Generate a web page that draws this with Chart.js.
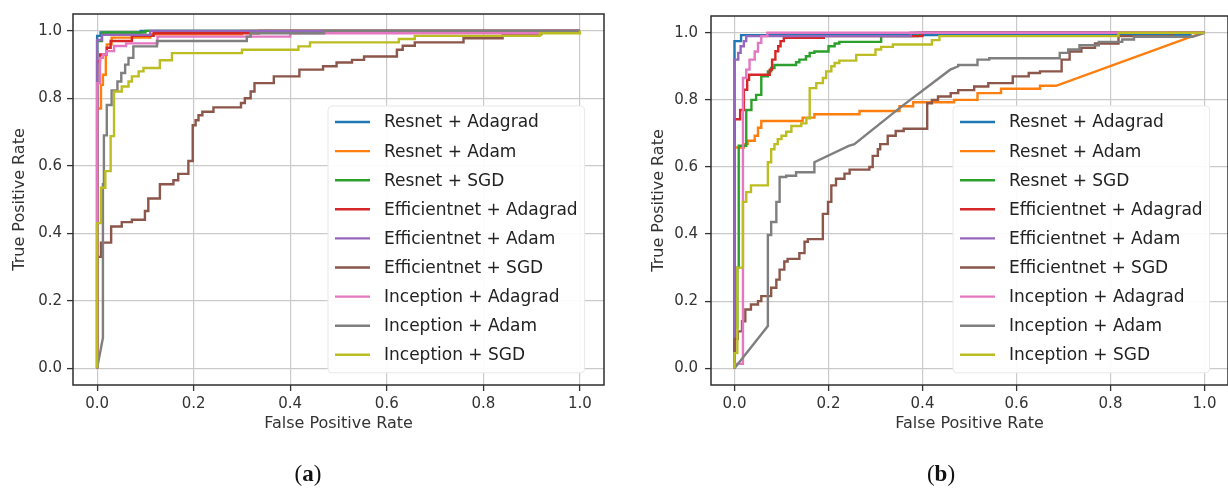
<!DOCTYPE html>
<html>
<head>
<meta charset="utf-8">
<script src="https://cdn.jsdelivr.net/npm/chart.js@4.4.1/dist/chart.umd.min.js"></script>
<style>
  html, body { margin: 0; padding: 0; background: #fff; }
  body { width: 1228px; height: 494px; position: relative; overflow: hidden; }
  canvas { position: absolute; top: 0; }
  #chartA { left: 0; }
  #chartB { left: 614px; }
  .caption {
    position: absolute; top: 461px; width: 80px; text-align: center;
    font-family: "Liberation Serif", "DejaVu Serif", serif; font-size: 23px; color: #111;
  }
</style>
</head>
<body>
<canvas id="chartA" width="614" height="494"></canvas>
<canvas id="chartB" width="614" height="494"></canvas>
<div class="caption" style="left:268px">(<b>a</b>)</div>
<div class="caption" style="left:901px">(<b>b</b>)</div>
<script>
const seriesLabels = [
  'Resnet + Adagrad', 'Resnet + Adam', 'Resnet + SGD',
  'Efficientnet + Adagrad', 'Efficientnet + Adam', 'Efficientnet + SGD',
  'Inception + Adagrad', 'Inception + Adam', 'Inception + SGD'
];
const seriesColors = ['#1f77b4', '#ff7f0e', '#2ca02c', '#d62728', '#9467bd',
                      '#8c564b', '#e377c2', '#7f7f7f', '#bcbd22'];
const tickValues = [0, 0.2, 0.4, 0.6, 0.8, 1.0];

// ---- panel (a): [fpr, tpr] corner points ----
const aResnetAdagrad = [[0,0],[0,0.985],[0.007,0.985],[0.007,0.995],[0.09,0.995],[0.09,1],[1,1]];
const aResnetAdam = [[0,0],[0,0.77],[0.008,0.77],[0.008,0.84],[0.012,0.84],[0.012,0.87],[0.018,0.87],
  [0.018,0.93],[0.02,0.93],[0.02,0.96],[0.03,0.96],[0.03,0.98],[0.11,0.98],[0.11,0.99],[0.3,0.99],[0.3,1],[1,1]];
const aResnetSGD = [[0,0],[0,0.97],[0.01,0.97],[0.01,0.995],[0.1,0.995],[0.1,1],[1,1]];
const aEffAdagrad = [[0,0],[0,0.91],[0.006,0.91],[0.006,0.93],[0.02,0.93],[0.02,0.95],[0.028,0.95],
  [0.028,0.97],[0.072,0.97],[0.072,0.985],[0.117,0.985],[0.117,0.993],[0.335,0.993],[0.335,1],[1,1]];
const aEffAdam = [[0,0],[0,0.973],[0.01,0.973],[0.01,0.988],[0.11,0.988],[0.11,1],[1,1]];
const aEffSGD = [[0,0],[0,0.33],[0.008,0.33],[0.008,0.372],[0.029,0.372],[0.029,0.42],[0.051,0.42],
  [0.051,0.433],[0.072,0.433],[0.072,0.44],[0.099,0.44],[0.099,0.466],[0.106,0.466],[0.106,0.503],
  [0.13,0.503],[0.13,0.545],[0.158,0.545],[0.158,0.557],[0.168,0.557],[0.168,0.576],[0.189,0.576],
  [0.189,0.614],[0.198,0.614],[0.198,0.72],[0.204,0.72],[0.204,0.735],[0.21,0.735],[0.21,0.75],
  [0.218,0.75],[0.218,0.76],[0.241,0.76],[0.241,0.773],[0.298,0.773],[0.298,0.786],[0.306,0.786],
  [0.306,0.8],[0.318,0.8],[0.318,0.82],[0.326,0.82],[0.326,0.845],[0.366,0.845],[0.366,0.865],
  [0.419,0.865],[0.419,0.885],[0.468,0.885],[0.468,0.895],[0.496,0.895],[0.496,0.906],[0.528,0.906],
  [0.528,0.914],[0.553,0.914],[0.553,0.924],[0.621,0.924],[0.621,0.944],[0.633,0.944],[0.633,0.956],
  [0.658,0.956],[0.658,0.966],[0.759,0.966],[0.759,0.978],[0.84,0.978],[0.84,0.99],[0.92,0.99],[0.92,1],[1,1]];
const aIncAdagrad = [[0,0],[0,0.845],[0.006,0.845],[0.006,0.92],[0.012,0.92],[0.012,0.93],[0.02,0.93],
  [0.02,0.94],[0.035,0.94],[0.035,0.955],[0.06,0.955],[0.06,0.963],[0.125,0.963],[0.125,0.983],
  [0.4,0.983],[0.4,0.993],[0.92,0.993],[0.92,1],[1,1]];
const aIncAdam = [[0,0],[0.012,0.09],[0.012,0.545],[0.014,0.545],[0.014,0.69],[0.02,0.69],[0.02,0.78],
  [0.03,0.78],[0.03,0.823],[0.042,0.823],[0.042,0.85],[0.05,0.85],[0.05,0.875],[0.058,0.875],[0.058,0.9],
  [0.065,0.9],[0.065,0.92],[0.075,0.92],[0.075,0.954],[0.124,0.954],[0.124,0.97],[0.31,0.97],[0.31,0.983],
  [0.318,0.983],[0.318,0.993],[0.47,0.993],[0.47,1],[1,1]];
const aIncSGD = [[0,0],[0,0.43],[0.008,0.43],[0.008,0.535],[0.017,0.535],[0.017,0.584],[0.028,0.584],
  [0.028,0.688],[0.035,0.688],[0.035,0.82],[0.051,0.82],[0.051,0.835],[0.065,0.835],[0.065,0.85],
  [0.072,0.85],[0.072,0.865],[0.086,0.865],[0.086,0.88],[0.096,0.88],[0.096,0.89],[0.13,0.89],
  [0.13,0.913],[0.155,0.913],[0.155,0.934],[0.3,0.934],[0.3,0.944],[0.417,0.944],[0.417,0.954],
  [0.441,0.954],[0.441,0.966],[0.625,0.966],[0.625,0.976],[0.658,0.976],[0.658,0.985],[0.917,0.985],
  [0.917,0.993],[1,0.993],[1,1]];

// ---- panel (b) ----
const bResnetAdagrad = [[0,0],[0,0.975],[0.014,0.975],[0.014,0.993],[0.97,0.993],[0.97,1],[1,1]];
const bResnetAdam = [[0,0],[0,0.658],[0.02,0.658],[0.02,0.668],[0.028,0.668],[0.028,0.678],[0.043,0.678],
  [0.043,0.693],[0.05,0.693],[0.05,0.717],[0.057,0.717],[0.057,0.737],[0.145,0.737],[0.145,0.747],
  [0.17,0.747],[0.17,0.757],[0.266,0.757],[0.266,0.767],[0.351,0.767],[0.351,0.781],[0.38,0.781],
  [0.38,0.793],[0.467,0.793],[0.467,0.8],[0.517,0.8],[0.517,0.82],[0.567,0.82],[0.567,0.833],
  [0.65,0.833],[0.65,0.842],[0.684,0.842],[0.975,0.99],[1,1]];
const bResnetSGD = [[0,0],[0,0.12],[0.006,0.12],[0.006,0.3],[0.009,0.3],[0.009,0.663],[0.025,0.663],
  [0.025,0.77],[0.036,0.77],[0.036,0.8],[0.046,0.8],[0.046,0.815],[0.057,0.815],[0.057,0.87],[0.071,0.87],
  [0.071,0.885],[0.078,0.885],[0.078,0.895],[0.085,0.895],[0.085,0.904],[0.131,0.904],[0.131,0.912],
  [0.138,0.912],[0.138,0.92],[0.152,0.92],[0.152,0.93],[0.16,0.93],[0.16,0.94],[0.17,0.94],[0.17,0.944],
  [0.2,0.944],[0.2,0.96],[0.213,0.96],[0.213,0.968],[0.223,0.968],[0.223,0.973],[0.312,0.973],
  [0.312,0.99],[0.39,0.99],[0.39,1],[1,1]];
const bEffAdagrad = [[0,0],[0,0.742],[0.012,0.742],[0.012,0.77],[0.02,0.77],[0.02,0.83],[0.027,0.83],
  [0.027,0.86],[0.031,0.86],[0.031,0.875],[0.075,0.875],[0.075,0.89],[0.08,0.89],[0.08,0.92],[0.087,0.92],
  [0.087,0.945],[0.093,0.945],[0.093,0.96],[0.098,0.96],[0.098,0.975],[0.105,0.975],[0.105,0.985],
  [0.19,0.985],[0.19,0.99],[0.4,0.99],[0.4,1],[1,1]];
const bEffAdam = [[0,0],[0,0.92],[0.008,0.92],[0.008,0.94],[0.013,0.94],[0.013,0.96],[0.02,0.96],
  [0.02,0.975],[0.025,0.975],[0.025,0.99],[0.375,0.99],[0.375,1],[1,1]];
const bEffSGD = [[0,0],[0,0.087],[0.007,0.087],[0.007,0.11],[0.016,0.11],[0.016,0.14],[0.023,0.14],
  [0.023,0.175],[0.035,0.175],[0.035,0.19],[0.05,0.19],[0.05,0.2],[0.057,0.2],[0.057,0.215],[0.078,0.215],
  [0.078,0.24],[0.089,0.24],[0.089,0.264],[0.096,0.264],[0.096,0.294],[0.106,0.294],[0.106,0.318],
  [0.113,0.318],[0.113,0.326],[0.138,0.326],[0.138,0.343],[0.149,0.343],[0.149,0.377],[0.156,0.377],
  [0.156,0.385],[0.188,0.385],[0.188,0.46],[0.199,0.46],[0.199,0.496],[0.206,0.496],[0.206,0.545],
  [0.216,0.545],[0.216,0.565],[0.234,0.565],[0.234,0.58],[0.245,0.58],[0.245,0.592],[0.287,0.592],
  [0.287,0.6],[0.294,0.6],[0.294,0.633],[0.305,0.633],[0.305,0.653],[0.31,0.653],[0.31,0.668],
  [0.326,0.668],[0.326,0.693],[0.343,0.693],[0.343,0.707],[0.36,0.707],[0.36,0.714],[0.41,0.714],
  [0.41,0.79],[0.42,0.79],[0.42,0.8],[0.433,0.8],[0.433,0.81],[0.46,0.81],[0.46,0.82],[0.476,0.82],
  [0.476,0.829],[0.51,0.829],[0.51,0.84],[0.54,0.84],[0.54,0.85],[0.592,0.85],[0.592,0.87],[0.626,0.87],
  [0.626,0.88],[0.65,0.88],[0.65,0.885],[0.696,0.885],[0.696,0.92],[0.713,0.92],[0.713,0.944],
  [0.738,0.944],[0.738,0.955],[0.767,0.955],[0.767,0.968],[0.817,0.968],[0.817,0.99],[0.93,0.99],
  [0.93,1],[1,1]];
const bIncAdagrad = [[0,0],[0,0.013],[0.018,0.013],[0.018,0.865],[0.025,0.865],[0.025,0.89],[0.032,0.89],
  [0.032,0.92],[0.043,0.92],[0.043,0.944],[0.05,0.944],[0.05,0.97],[0.057,0.97],[0.057,0.99],[0.07,0.99],
  [0.07,1],[1,1]];
const bIncAdam = [[0,0],[0.071,0.126],[0.071,0.397],[0.078,0.397],[0.078,0.436],[0.089,0.436],[0.089,0.496],
  [0.096,0.496],[0.096,0.57],[0.11,0.57],[0.11,0.574],[0.131,0.574],[0.131,0.584],[0.17,0.584],
  [0.17,0.614],[0.243,0.663],[0.255,0.668],[0.355,0.78],[0.459,0.89],[0.476,0.9],[0.476,0.904],
  [0.517,0.904],[0.517,0.92],[0.542,0.92],[0.542,0.924],[0.692,0.924],[0.692,0.94],[0.71,0.94],
  [0.71,0.95],[0.734,0.95],[0.734,0.963],[0.775,0.963],[0.775,0.973],[0.825,0.973],[0.825,0.98],
  [0.85,0.98],[0.85,0.988],[0.975,0.988],[1,1]];
const bIncSGD = [[0,0],[0,0.045],[0.006,0.045],[0.006,0.3],[0.018,0.3],[0.018,0.496],[0.025,0.496],
  [0.025,0.525],[0.035,0.525],[0.035,0.545],[0.071,0.545],[0.071,0.614],[0.078,0.614],[0.078,0.653],
  [0.085,0.653],[0.085,0.668],[0.092,0.668],[0.092,0.683],[0.1,0.683],[0.1,0.693],[0.11,0.693],
  [0.11,0.705],[0.121,0.705],[0.121,0.722],[0.142,0.722],[0.142,0.73],[0.153,0.73],[0.153,0.745],
  [0.16,0.745],[0.16,0.835],[0.174,0.835],[0.174,0.85],[0.188,0.85],[0.188,0.865],[0.195,0.865],
  [0.195,0.885],[0.206,0.885],[0.206,0.9],[0.213,0.9],[0.213,0.91],[0.223,0.91],[0.223,0.917],
  [0.259,0.917],[0.259,0.934],[0.3,0.934],[0.3,0.95],[0.312,0.95],[0.312,0.958],[0.337,0.958],
  [0.337,0.965],[0.42,0.965],[0.42,0.978],[0.436,0.978],[0.436,0.99],[0.817,0.99],[0.817,1],[1,1]];

const panelA = [aResnetAdagrad, aResnetAdam, aResnetSGD, aEffAdagrad, aEffAdam, aEffSGD,
                aIncAdagrad, aIncAdam, aIncSGD];
const panelB = [bResnetAdagrad, bResnetAdam, bResnetSGD, bEffAdagrad, bEffAdam, bEffSGD,
                bIncAdagrad, bIncAdam, bIncSGD];

Chart.defaults.font.family = '"DejaVu Sans", sans-serif';
Chart.defaults.color = '#333';

// axes frame (all four spines) + matplotlib-like legend inside the axes
const frameLegend = {
  id: 'frameLegend',
  afterDraw(chart, args, opts) {
    const { ctx, chartArea: a } = chart;
    ctx.save();
    ctx.strokeStyle = '#2e2e2e';
    ctx.lineWidth = 1.5;
    ctx.strokeRect(a.left, a.top, a.right - a.left, a.bottom - a.top);

    const sets = chart.data.datasets;
    ctx.font = '17px "DejaVu Sans"';
    const maxW = Math.max(...sets.map(d => ctx.measureText(d.label).width));
    const w = 7 + 35 + 14 + maxW + 7;
    const h = 16 + (sets.length - 1) * opts.row + 18;
    ctx.beginPath();
    ctx.roundRect(opts.left, opts.top, w, h, 4);
    ctx.fillStyle = 'rgba(255,255,255,0.92)';
    ctx.fill();
    ctx.strokeStyle = '#e8e8e8';
    ctx.lineWidth = 1;
    ctx.stroke();

    ctx.textBaseline = 'middle';
    ctx.textAlign = 'left';
    sets.forEach((d, i) => {
      const y = opts.top + 16 + i * opts.row;
      ctx.beginPath();
      ctx.moveTo(opts.left + 7, y);
      ctx.lineTo(opts.left + 42, y);
      ctx.strokeStyle = d.borderColor;
      ctx.lineWidth = 2.4;
      ctx.stroke();
      ctx.fillStyle = '#222';
      ctx.fillText(d.label, opts.left + 56, y + 1);
    });
    ctx.restore();
  }
};

function makeChart(id, series, cfg) {
  const axis = (titleText, titlePad, fit, tickPad) => ({
    type: 'linear',
    min: -0.05,
    max: 1.05,
    afterBuildTicks: s => { s.ticks = tickValues.map(v => ({ value: v })); },
    afterFit: fit,
    ticks: { callback: v => v.toFixed(1), font: { size: 15 }, color: '#333', padding: tickPad, maxRotation: 0 },
    grid: { color: '#cacaca', lineWidth: 1.2, tickLength: 6, tickColor: '#333', tickWidth: 1.3 },
    border: { display: false },
    title: { display: true, text: titleText, font: { size: 16 }, color: '#333', padding: titlePad }
  });
  return new Chart(document.getElementById(id), {
    type: 'scatter',
    data: {
      datasets: series.map((pts, i) => ({
        label: seriesLabels[i],
        data: pts.map(p => ({ x: p[0], y: p[1] })),
        showLine: true,
        borderColor: seriesColors[i],
        backgroundColor: seriesColors[i],
        borderWidth: 2.4,
        pointRadius: 0,
        fill: false,
        order: series.length - i   // later series on top, as in matplotlib
      }))
    },
    options: {
      responsive: false,
      animation: false,
      devicePixelRatio: 1,
      layout: { padding: { top: 13, right: cfg.padRight, bottom: 0, left: 0 } },
      plugins: {
        legend: { display: false },
        tooltip: { enabled: false },
        frameLegend: cfg.legend
      },
      scales: {
        x: axis('False Positive Rate', { top: 0, bottom: 61 }, s => { s.height = 109; }, 4),
        y: axis('True Positive Rate', { top: cfg.yTitlePad, bottom: 0 }, s => { s.width = cfg.yWidth; }, cfg.yTickPad)
      }
    },
    plugins: [frameLegend]
  });
}

makeChart('chartA', panelA, { padRight: 10, yWidth: 73, yTickPad: 5, yTitlePad: 10,
                             legend: { left: 328, top: 106, row: 29.1 } });
makeChart('chartB', panelB, { padRight: 0, yWidth: 97, yTickPad: 7, yTitlePad: 35.4,
                             legend: { left: 339, top: 106, row: 29.1 } });
</script>
</body>
</html>
